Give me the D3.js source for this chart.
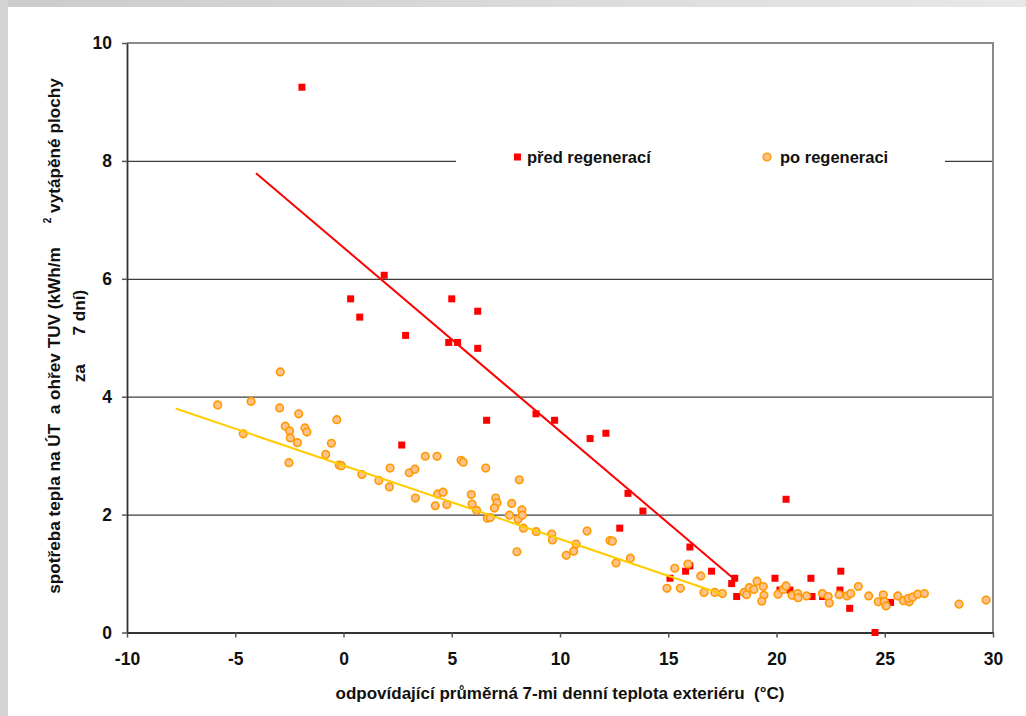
<!DOCTYPE html>
<html>
<head>
<meta charset="utf-8">
<script src="https://cdn.jsdelivr.net/npm/d3@7"></script>
<style>
  body { margin: 0; background: #fff; }
  svg { display: block; font-family: "Liberation Sans", Arial, sans-serif; }
</style>
</head>
<body>
<svg class="chart"></svg>
<script>
// před regenerací (red squares)
var beforeX = [-1.92, 1.88, 0.33, 0.75, 2.87, 5.0, 6.2, 4.86, 5.27, 6.2, 2.69, 6.61, 8.89, 9.75, 11.39, 12.12,
  13.14, 13.83, 12.76, 16.0, 16.0, 15.8, 17.0, 15.08, 18.07, 17.93, 18.16, 20.44, 19.93, 21.59, 22.97, 21.64,
  20.16, 20.62, 22.13, 22.93, 23.38, 24.55, 25.27];
var beforeY = [9.25, 6.06, 5.66, 5.35, 5.04, 5.66, 5.45, 4.92, 4.92, 4.82, 3.18, 3.60, 3.71, 3.60, 3.29, 3.38,
  2.36, 2.06, 1.77, 1.45, 1.13, 1.04, 1.04, 0.92, 0.92, 0.83, 0.61, 2.26, 0.92, 0.92, 1.04, 0.61,
  0.72, 0.72, 0.61, 0.72, 0.41, 0.0, 0.51];

// po regeneraci (orange circles)
var afterX = [-2.92, -5.81, -4.27, -2.95, -2.07, -0.31, -4.63, -2.69, -2.49, -1.78, -1.69, -2.46, -2.13, -0.56,
  -0.82, -2.52, -0.20, -0.10, 0.85, 1.63, 2.15, 2.12, 3.04, 3.30, 3.32, 3.78, 4.32, 5.43, 5.53, 6.57, 8.12,
  4.24, 4.35, 4.60, 4.77, 5.90, 5.94, 6.15, 6.64, 6.78, 7.03, 7.09, 6.97, 7.77, 7.66, 8.06, 8.24, 8.26, 8.31,
  8.01, 8.90, 9.62, 9.65, 10.29, 10.63, 10.74, 11.25, 12.31, 12.42, 12.59, 13.25, 14.94, 15.56, 15.30, 15.91,
  16.50, 16.65, 17.15, 17.50, 18.50, 18.62, 18.74, 18.96, 19.10, 19.39, 19.42, 19.32, 20.07, 20.31, 20.44,
  20.72, 20.98, 21.00, 21.39, 22.12, 22.39, 22.44, 22.89, 23.26, 23.43, 23.78, 24.26, 24.70, 24.93, 24.98,
  25.06, 25.60, 25.86, 26.13, 26.09, 26.29, 26.52, 26.83, 28.43, 29.68];
var afterY = [4.42, 3.86, 3.92, 3.81, 3.71, 3.61, 3.37, 3.50, 3.42, 3.47, 3.40, 3.30, 3.22, 3.21,
  3.02, 2.88, 2.84, 2.83, 2.68, 2.58, 2.79, 2.47, 2.71, 2.77, 2.28, 2.99, 2.99, 2.92, 2.89, 2.79, 2.59,
  2.15, 2.35, 2.38, 2.17, 2.34, 2.18, 2.07, 1.94, 1.95, 2.28, 2.20, 2.11, 2.19, 1.99, 1.92, 2.08, 1.99, 1.77,
  1.37, 1.71, 1.67, 1.57, 1.31, 1.38, 1.50, 1.72, 1.56, 1.55, 1.18, 1.26, 0.75, 0.75, 1.09, 1.16,
  0.96, 0.68, 0.68, 0.66, 0.68, 0.64, 0.76, 0.73, 0.87, 0.78, 0.63, 0.53, 0.65, 0.73, 0.79,
  0.63, 0.66, 0.59, 0.62, 0.66, 0.61, 0.50, 0.64, 0.62, 0.66, 0.78, 0.62, 0.52, 0.64, 0.52,
  0.45, 0.62, 0.54, 0.52, 0.58, 0.60, 0.65, 0.66, 0.48, 0.55];

// linear trend lines, end points
var trendBeforeX = [-4.04, 18.0];
var trendBeforeY = [7.79, 0.92];
var trendAfterX = [-7.75, 17.5];
var trendAfterY = [3.80, 0.65];

var xTicks = [-10, -5, 0, 5, 10, 15, 20, 25, 30];
var yTicks = [0, 2, 4, 6, 8, 10];
var seriesNames = ['před regenerací', 'po regeneraci'];

var width = 1026, height = 716;
var margin = { left: 127, right: 33, top: 43, bottom: 83.5 };

var svg = d3.select('svg.chart')
  .attr('width', width)
  .attr('height', height);

// grey frame strips of the slide
var grad = svg.append('defs').append('linearGradient')
  .attr('id', 'topStrip');
grad.append('stop').attr('offset', '0%').attr('stop-color', '#cbcbcb');
grad.append('stop').attr('offset', '100%').attr('stop-color', '#e8e8e8');
svg.append('rect').attr('x', 0).attr('y', 0).attr('width', width).attr('height', 7).attr('fill', 'url(#topStrip)');
svg.append('rect').attr('x', 0).attr('y', 0).attr('width', 8).attr('height', height).attr('fill', '#d4d4d4');

var x = d3.scaleLinear().domain([-10, 30]).range([margin.left, width - margin.right]);
var y = d3.scaleLinear().domain([0, 10]).range([height - margin.bottom, margin.top]);

var plotW = x(30) - x(-10);
var plain = function (d) { return String(d); };

// horizontal gridlines
var grid = svg.append('g')
  .attr('transform', 'translate(' + margin.left + ',0)')
  .call(d3.axisLeft(y).tickValues(yTicks.filter(function (d) { return d > 0 && d < 10; }))
    .tickSize(-plotW).tickFormat(''));
grid.select('.domain').remove();
grid.selectAll('line').attr('stroke', '#3c3c3c').attr('stroke-width', 1.3);

// plot border top and right
svg.append('path')
  .attr('d', 'M' + x(-10) + ',' + y(10) + 'H' + x(30) + 'V' + y(0))
  .attr('fill', 'none')
  .attr('stroke', '#8a8a8a')
  .attr('stroke-width', 2);

// axes
var xAxis = svg.append('g')
  .attr('transform', 'translate(0,' + y(0) + ')')
  .call(d3.axisBottom(x).tickValues(xTicks).tickFormat(plain).tickSize(5).tickSizeOuter(0).tickPadding(22));
var yAxis = svg.append('g')
  .attr('transform', 'translate(' + x(-10) + ',0)')
  .call(d3.axisLeft(y).tickValues(yTicks).tickFormat(plain).tickSize(5).tickSizeOuter(0).tickPadding(10));

[xAxis, yAxis].forEach(function (a) {
  a.select('.domain').attr('stroke', '#333').attr('stroke-width', 1.8);
  a.selectAll('line').attr('stroke', '#555').attr('stroke-width', 1.5);
  a.selectAll('text')
    .attr('fill', '#111')
    .attr('font-size', 17.5)
    .attr('font-weight', 'bold')
    .attr('font-family', '"Liberation Sans", Arial, sans-serif');
});
xAxis.selectAll('text').attr('dy', '0.3em');

// markers
svg.append('g').selectAll('rect')
  .data(beforeX)
  .join('rect')
  .attr('x', function (d) { return x(d) - 3.5; })
  .attr('y', function (d, i) { return y(beforeY[i]) - 3.5; })
  .attr('width', 7)
  .attr('height', 7)
  .attr('fill', '#ff0000');

svg.append('g').selectAll('circle')
  .data(afterX)
  .join('circle')
  .attr('cx', function (d) { return x(d); })
  .attr('cy', function (d, i) { return y(afterY[i]); })
  .attr('r', 3.8)
  .attr('fill', '#ffc28a')
  .attr('stroke', '#ff9900')
  .attr('stroke-width', 1.6);

// trend lines
var line = d3.line()
  .x(function (d) { return x(d[0]); })
  .y(function (d) { return y(d[1]); });

svg.append('path')
  .attr('d', line(d3.zip(trendBeforeX, trendBeforeY)))
  .attr('stroke', '#ff0000')
  .attr('stroke-width', 2)
  .attr('fill', 'none');
svg.append('path')
  .attr('d', line(d3.zip(trendAfterX, trendAfterY)))
  .attr('stroke', '#ffcc00')
  .attr('stroke-width', 2)
  .attr('fill', 'none');

// legend
var legend = svg.append('g');
legend.append('rect')
  .attr('x', 456).attr('y', 146).attr('width', 489).attr('height', 28)
  .attr('fill', '#fff');
legend.append('rect')
  .attr('x', 514).attr('y', 153.5).attr('width', 7).attr('height', 7)
  .attr('fill', '#ff0000');
legend.append('circle')
  .attr('cx', 767).attr('cy', 157).attr('r', 3.8)
  .attr('fill', '#ffc28a').attr('stroke', '#ff9900').attr('stroke-width', 1.6);
legend.selectAll('text.leg')
  .data(seriesNames)
  .join('text')
  .attr('class', 'leg')
  .attr('x', function (d, i) { return i === 0 ? 527 : 780; })
  .attr('y', 163)
  .attr('font-size', 16.5)
  .attr('font-weight', 'bold')
  .attr('fill', '#111')
  .text(function (d) { return d; });

// axis titles
svg.append('text')
  .attr('x', (x(-10) + x(30)) / 2)
  .attr('y', 699)
  .attr('text-anchor', 'middle')
  .attr('font-size', 17)
  .attr('font-weight', 'bold')
  .attr('fill', '#111')
  .style('white-space', 'pre')
  .text('odpovídající průměrná 7-mi denní teplota exteriéru  (°C)');

var yTitle = svg.append('text')
  .attr('transform', 'translate(60,336) rotate(-90)')
  .attr('text-anchor', 'middle')
  .attr('font-size', 17.2)
  .attr('font-weight', 'bold')
  .attr('fill', '#111')
  .style('white-space', 'pre');
var l1 = yTitle.append('tspan').attr('x', 0).attr('y', 0);
l1.append('tspan').text('spotřeba tepla na ÚT  a ohřev TUV (kWh/m     ');
l1.append('tspan').attr('font-size', 10).attr('dy', -9).text('2');
l1.append('tspan').attr('dy', 9).text(' vytápěné plochy');
yTitle.append('tspan').attr('x', 0).attr('y', 25).text('za      7 dní)');
</script>
</body>
</html>
